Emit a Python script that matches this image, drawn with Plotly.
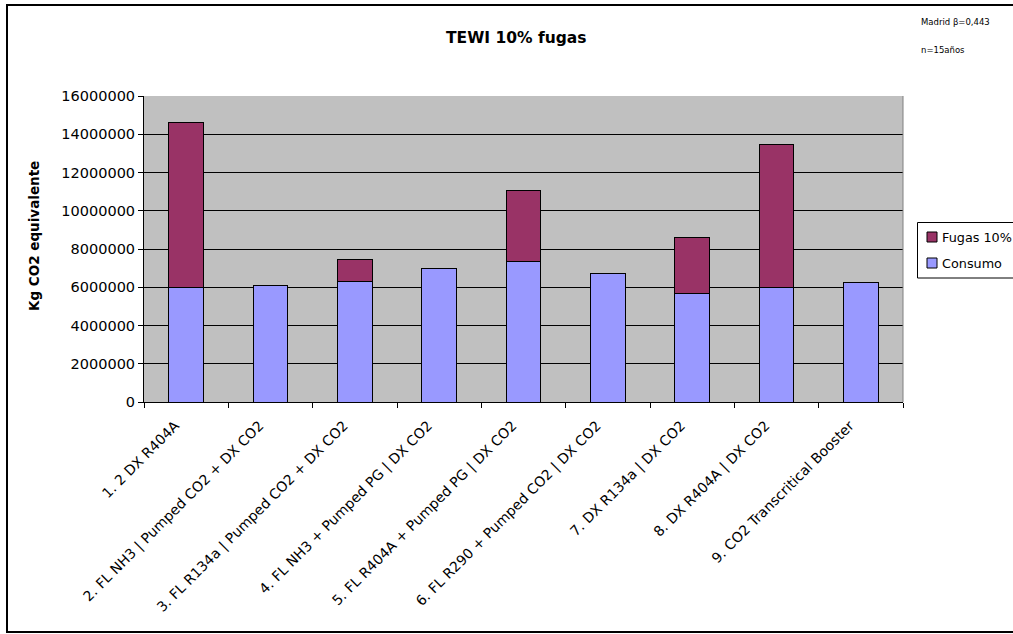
import plotly.graph_objects as go

# Systems compared (x categories)
sistemas = [
    "1. 2 DX R404A",
    "2. FL NH3 | Pumped CO2 + DX CO2",
    "3. FL R134a | Pumped CO2 + DX CO2",
    "4. FL NH3 + Pumped PG | DX CO2",
    "5. FL R404A + Pumped PG | DX CO2",
    "6. FL R290 + Pumped CO2 | DX CO2",
    "7. DX R134a | DX CO2",
    "8. DX R404A | DX CO2",
    "9. CO2 Transcritical Booster",
]

# Indirect emissions (energy consumption), kg CO2 eq
consumo = [5980000, 6080000, 6290000, 7000000, 7330000, 6720000, 5680000, 5990000, 6240000]

# Direct emissions from 10% refrigerant leakage, kg CO2 eq
fugas = [8630000, 0, 1150000, 0, 3720000, 0, 2920000, 7490000, 0]

# Y axis ticks
y_ticks = [0, 2000000, 4000000, 6000000, 8000000, 10000000, 12000000, 14000000, 16000000]

FONT = "DejaVu Sans"
W, H = 1013, 634
L, R, T, B = 144, 110, 96, 232
PW, PH = W - L - R, H - T - B


def px(x):
    return (x - L) / PW


def py(y):
    return (H - B - y) / PH


fig = go.Figure()
fig.add_trace(go.Bar(
    x=sistemas, y=consumo, name="Consumo",
    marker=dict(color="#9999FF", line=dict(color="#000000", width=1)),
))
fig.add_trace(go.Bar(
    x=sistemas, y=fugas, name="Fugas 10%",
    marker=dict(color="#993366", line=dict(color="#000000", width=1)),
))

shapes = [
    # outer chart frame
    dict(type="rect", xref="paper", yref="paper",
         x0=px(7), x1=px(1030), y0=py(632), y1=py(5),
         line=dict(color="#000000", width=2), fillcolor="rgba(0,0,0,0)", layer="below"),
    # right edge of plot area
    dict(type="line", xref="paper", yref="paper", x0=1, x1=1, y0=0, y1=1,
         line=dict(color="#808080", width=1)),
    # legend box
    dict(type="rect", xref="paper", yref="paper",
         x0=px(917.5), x1=px(1030), y0=py(278), y1=py(222.5),
         line=dict(color="#000000", width=1), fillcolor="#FFFFFF"),
    # legend swatches
    dict(type="rect", xref="paper", yref="paper",
         x0=px(927), x1=px(937), y0=py(242), y1=py(232),
         line=dict(color="#000000", width=1), fillcolor="#993366"),
    dict(type="rect", xref="paper", yref="paper",
         x0=px(927), x1=px(937), y0=py(268), y1=py(258),
         line=dict(color="#000000", width=1), fillcolor="#9999FF"),
]


def label(text, x, y, size, xanchor="center", angle=0):
    return dict(text=text, xref="paper", yref="paper",
                x=px(x), y=py(y), xanchor=xanchor, yanchor="middle",
                textangle=angle, showarrow=False,
                font=dict(family=FONT, size=size, color="#000000"))


annotations = [
    label("<b>TEWI 10% fugas</b>", 516, 38, 15.5),
    label("Madrid β=0,443", 919, 22, 8.5, xanchor="left"),
    label("n=15años", 919, 50, 8.5, xanchor="left"),
    label("<b>Kg CO2 equivalente</b>", 34, 236, 13.5, angle=-90),
    label("Fugas 10%", 940, 237, 12.8, xanchor="left"),
    label("Consumo", 940, 263, 12.8, xanchor="left"),
]

fig.update_layout(
    width=W, height=H,
    margin=dict(l=L, r=R, t=T, b=B, pad=0),
    barmode="stack", bargap=0.59,
    paper_bgcolor="#FFFFFF", plot_bgcolor="#C0C0C0",
    showlegend=False,
    font=dict(family=FONT, size=13, color="#000000"),
    shapes=shapes, annotations=annotations,
)
fig.update_xaxes(
    type="category", tickangle=-45, tickson="boundaries",
    ticks="outside", ticklen=5, tickcolor="#000000",
    ticklabelstandoff=9, ticklabelshift=-11,
    showline=True, linecolor="#000000", linewidth=1,
    showgrid=False, tickfont=dict(family=FONT, size=14),
)
fig.update_yaxes(
    range=[0, 16000000], tickvals=y_ticks, tickformat="d",
    ticks="outside", ticklen=5, tickcolor="#000000",
    showline=True, linecolor="#000000", linewidth=1,
    showgrid=True, gridcolor="#000000", gridwidth=1,
    zeroline=False, tickfont=dict(family=FONT, size=14.5),
)

fig.write_html("out.html")
